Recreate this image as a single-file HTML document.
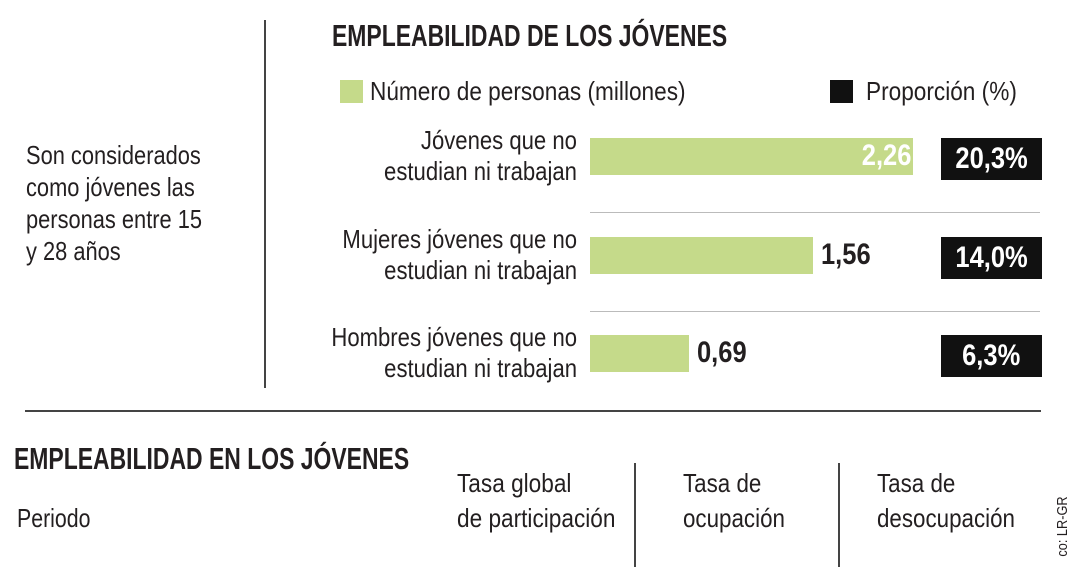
<!DOCTYPE html>
<html><head><meta charset="utf-8"><style>
body{margin:0;width:1080px;height:567px;background:#fff;overflow:hidden;position:relative;font-family:"Liberation Sans Narrow","Liberation Sans",sans-serif;color:#231f20}
.a{position:absolute;white-space:nowrap}
.t{font-size:25px;line-height:30px}
.b{font-weight:bold}
.sx{transform-origin:left top}
</style></head><body>
<div class="a" style="left:264px;top:20px;width:1.5px;height:368px;background:#444"></div>
<div class="a" style="left:25px;top:410px;width:1016px;height:1.5px;background:#444"></div>
<div class="a t sx" style="left:26px;top:139px;line-height:32px;font-size:26px;transform:scaleX(0.84)">Son considerados<br>como jóvenes las<br>personas entre 15<br>y 28 años</div>
<div class="a b sx" style="left:332px;top:18px;font-size:31px;transform:scaleX(0.74)">EMPLEABILIDAD DE LOS JÓVENES</div>
<div class="a" style="left:340px;top:80px;width:23px;height:23px;background:#c5da8a"></div>
<div class="a t sx" style="left:370px;top:76px;font-size:26px;transform:scaleX(0.87)">Número de personas (millones)</div>
<div class="a" style="left:830px;top:80px;width:23px;height:23px;background:#111"></div>
<div class="a t sx" style="left:866px;top:76px;font-size:26px;transform:scaleX(0.87)">Proporción (%)</div>
<div id="chart"></div>
<div class="a b sx" style="left:14px;top:441px;font-size:31px;transform:scaleX(0.74)">EMPLEABILIDAD EN LOS JÓVENES</div>
<div class="a t sx" style="left:17px;top:503px;font-size:26px;transform:scaleX(0.82)">Periodo</div>
<div class="a t sx" style="left:457px;top:466px;line-height:35px;font-size:26px;transform:scaleX(0.87)">Tasa global<br>de participación</div>
<div class="a" style="left:634px;top:463px;width:1.5px;height:104px;background:#444"></div>
<div class="a t sx" style="left:683px;top:466px;line-height:35px;font-size:26px;transform:scaleX(0.86)">Tasa de<br>ocupación</div>
<div class="a" style="left:838px;top:463px;width:1.5px;height:104px;background:#444"></div>
<div class="a t sx" style="left:877px;top:466px;line-height:35px;font-size:26px;transform:scaleX(0.86)">Tasa de<br>desocupación</div>
<div class="a" style="left:1027px;top:518px;font-size:15px;transform:rotate(-90deg) scaleX(0.85);transform-origin:center">co: LR-GR</div>
<script>
const categories=["Jóvenes que no|estudian ni trabajan","Mujeres jóvenes que no|estudian ni trabajan","Hombres jóvenes que no|estudian ni trabajan"];
const personas=[2.26,1.56,0.69];
const proporcion=[20.3,14.0,6.3];
const x0=590,pxPer=143,rowTop=138,rowStep=98.5;
const xs=v=>x0+v*pxPer;
const c=document.getElementById('chart');
categories.forEach((cat,i)=>{
 const y=rowTop+i*rowStep;
 const lab=document.createElement('div');
 
 
 lab.className='a t';lab.style.cssText+=`right:${1080-577}px;top:${y-13}px;text-align:right;line-height:31px;font-size:26px;transform:scaleX(0.85);transform-origin:right top`;
 lab.innerHTML=cat.replace('|','<br>');c.appendChild(lab);
 const bar=document.createElement('div');
 
 
 const w=xs(personas[i])-x0;
 bar.className='a';bar.style.cssText+=`left:${x0}px;top:${y}px;width:${w}px;height:37px;background:#c5da8a`;c.appendChild(bar);
 const v=document.createElement('div');
 
 
 const txt=personas[i].toFixed(2).replace('.',',');
 v.className='a b';v.textContent=txt;
 if(i===0){v.style.cssText+=`right:${1080-xs(personas[i])+2}px;top:${y+1}px;font-size:30px;color:#fff;transform:scaleX(0.85);transform-origin:right top`;}
 else{v.style.cssText+=`left:${xs(personas[i])+8}px;top:${y+1}px;font-size:30px;transform:scaleX(0.85);transform-origin:left top`;}
 c.appendChild(v);
 const box=document.createElement('div');
 
 
 box.className='a b';box.style.cssText+=`left:941px;top:${y}px;width:101px;height:42px;background:#111;color:#fff;font-size:30px;line-height:42px;text-align:center`;
 const sp=document.createElement('span');
 
 
 sp.style.cssText='display:inline-block;transform:scaleX(0.85)';
 sp.textContent=proporcion[i].toFixed(1).replace('.',',')+'%';box.appendChild(sp);c.appendChild(box);
 if(i<categories.length-1){
  const s=document.createElement('div');
  
  
  s.className='a';s.style.cssText+=`left:590px;top:${y+74}px;width:450px;height:1px;background:#bbb`;c.appendChild(s);
 }
});
</script>
</body></html>
